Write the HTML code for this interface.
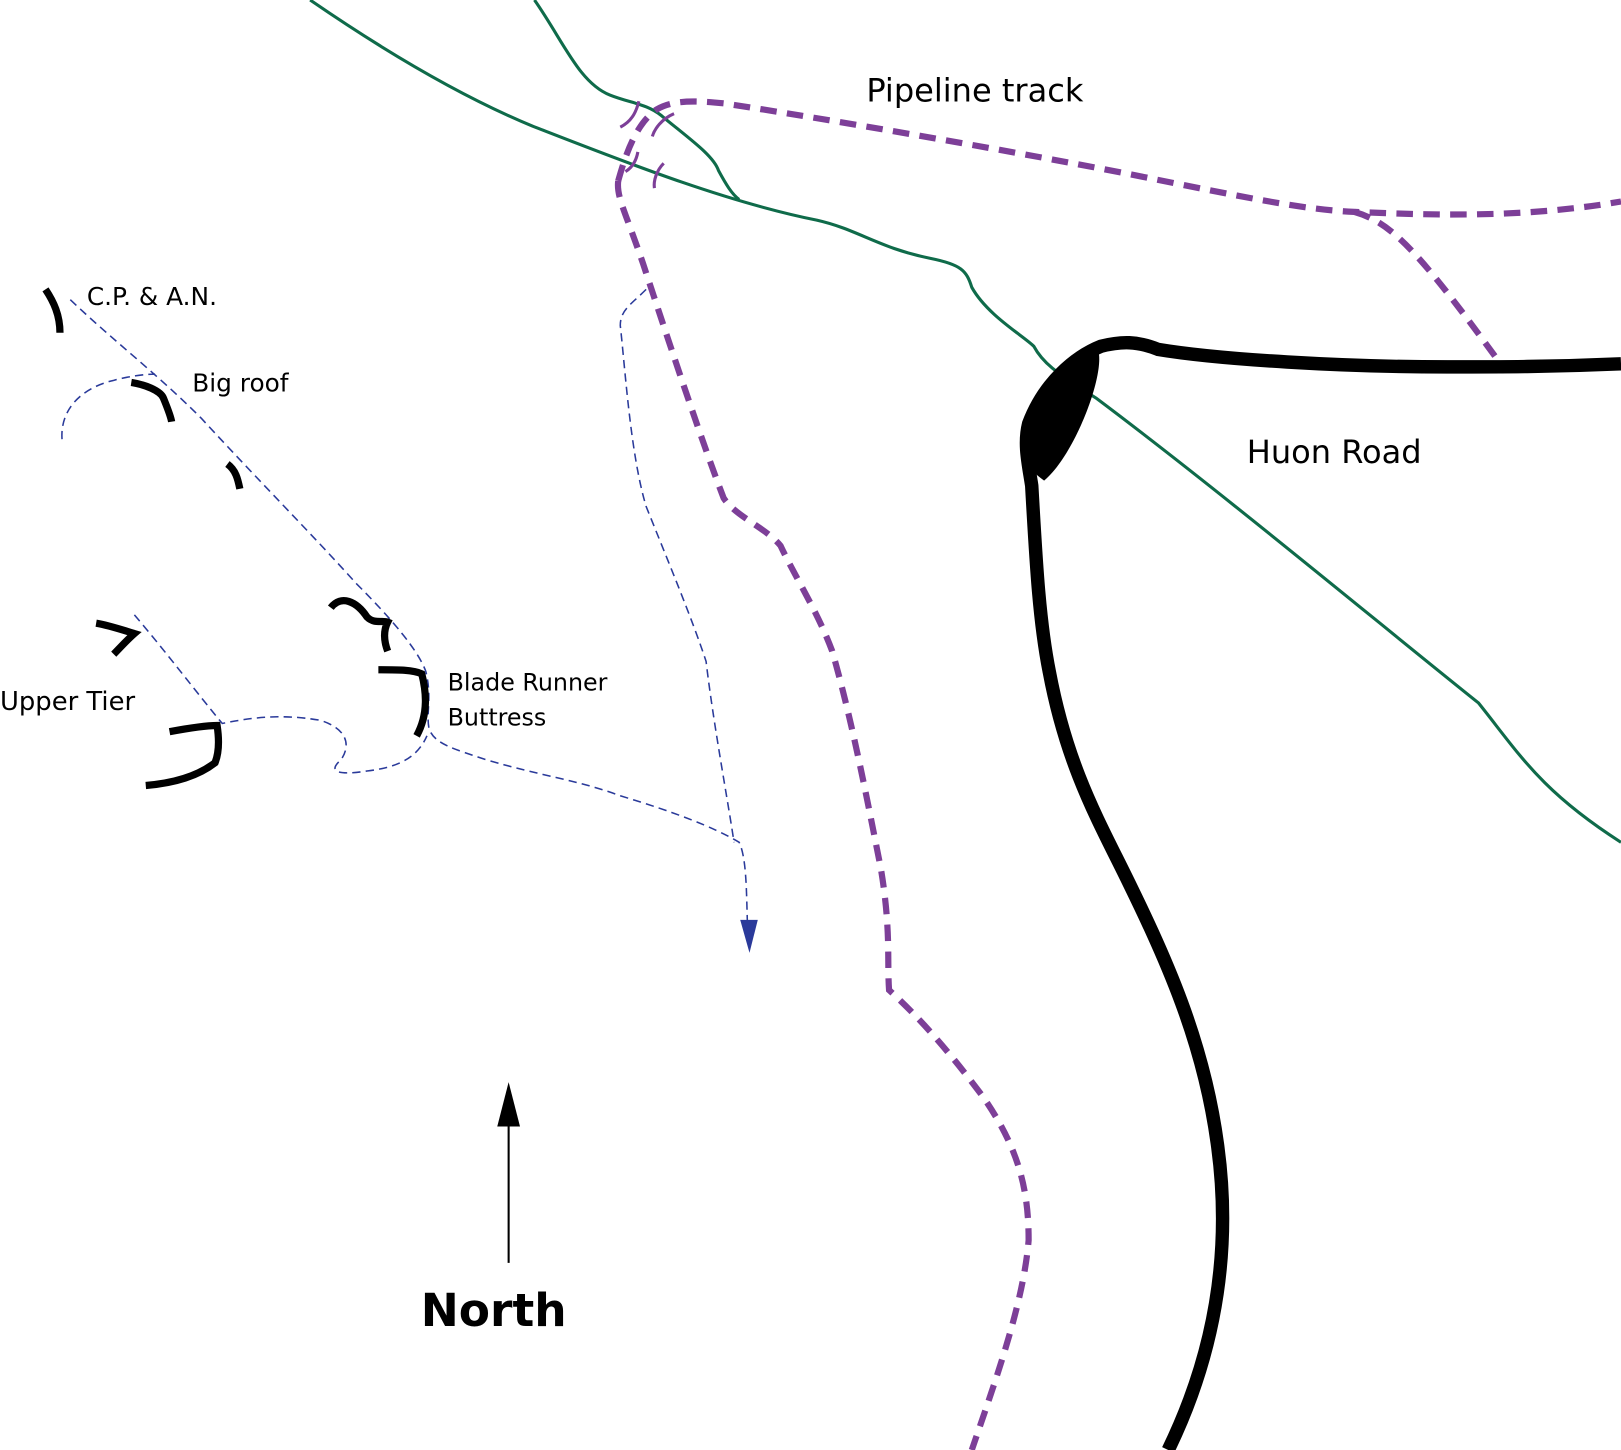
<!DOCTYPE html>
<html><head><meta charset="utf-8"><style>
html,body{margin:0;padding:0;background:#fff;}
svg{display:block;}
text{font-family:"DejaVu Sans","Liberation Sans",sans-serif;fill:#000;}
</style></head><body>
<svg width="1621" height="1450" viewBox="0 0 1568 1403" preserveAspectRatio="none" xmlns="http://www.w3.org/2000/svg">
<rect width="1568" height="1403" fill="#fff"/>
<!-- green lines -->
<g fill="none" stroke="#0f6b4a" stroke-width="3">
<path d="M300,0 C380,55 450,95 515,122 C600,155 700,195 790,213 C830,222 850,240 900,250 C930,256 935,262 940,278 C955,305 990,325 1000,335 C1008,350 1020,360 1060,385 C1180,475 1330,600 1430,680 C1470,730 1490,765 1568,815"/>
<path d="M517,0 C545,40 560,80 590,92 C610,100 625,100 640,112 C665,133 690,150 695,165 C702,178 708,188 715,193"/>
</g>
<!-- purple dashed -->
<g fill="none" stroke="#7d3f98" stroke-width="6" stroke-dasharray="16,10">
<path d="M598,175 C605,150 615,120 635,106 C650,97 670,97 700,100 C800,115 1000,150 1100,170 C1200,190 1260,203 1310,205 C1400,209 1480,210 1568,195"/>
<path d="M1310,205 C1345,215 1370,240 1450,350"/>
<path d="M598,175 C596,190 605,205 622,255 C650,340 680,430 700,482 C712,500 740,510 755,528 C770,560 790,590 805,630 C825,700 840,780 852,840 C862,900 858,930 860,958 C890,985 920,1020 950,1060 C985,1110 995,1150 995,1200 C990,1260 965,1330 940,1403"/>
</g>
<g fill="none" stroke="#7d3f98" stroke-width="3">
<path d="M618,98 C615,110 610,118 600,123"/>
<path d="M652,110 C640,115 633,125 631,132"/>
<path d="M617,147 C615,158 610,163 605,166"/>
<path d="M642,158 C635,165 632,175 633,182"/>
</g>
<!-- road -->
<g fill="none" stroke="#000" stroke-width="13" stroke-linecap="butt">
<path d="M1568,352 C1500,355 1450,355 1400,355 C1300,355 1180,348 1120,338 C1100,330 1085,330 1065,335 C1040,345 1010,370 995,410 C990,430 995,450 998,470 C1002,540 1005,600 1015,650 C1030,730 1055,780 1080,830 C1130,930 1165,1010 1178,1110 C1190,1200 1180,1300 1130,1403"/>
</g>
<path d="M1062,338 C1070,360 1040,440 1010,465 C995,455 985,440 990,410 C1000,375 1030,345 1062,338 Z" fill="#000"/>
<!-- blue dashed -->
<g fill="none" stroke="#2a3a9a" stroke-width="1.5" stroke-dasharray="8,5">
<path d="M68,290 C110,330 150,360 195,405 C250,465 300,515 345,565 C380,600 405,630 412,650 C418,675 412,690 415,705 C420,720 440,725 470,735 C520,750 560,755 600,770 C650,785 690,800 715,815 C722,830 722,860 723,895"/>
<path d="M625,280 C610,295 600,300 600,315 C605,360 610,440 625,490 C645,540 670,600 683,640 C690,700 705,780 710,815"/>
<path d="M60,425 C58,395 80,375 110,368 C125,364 140,362 150,362"/>
<path d="M130,595 C160,630 190,670 215,700 C240,695 270,690 310,697 C335,705 340,720 330,735 C315,748 330,750 355,746 C390,742 405,730 413,712"/>
</g>
<path d="M716,890 L733,890 L725,922 Z" fill="#2a3a9a"/>
<!-- climbing marks -->
<g fill="none" stroke="#000" stroke-width="7" stroke-linecap="butt">
<path d="M44,280 C52,292 58,305 58,322"/>
<path d="M127,370 C140,372 155,378 158,385 C162,395 165,402 166,408"/>
<path d="M220,449 C228,455 230,463 232,473"/>
<path d="M320,588 C330,575 345,582 355,597 C362,604 370,600 375,602 C370,612 372,622 375,630"/>
<path d="M366,648 C385,648 400,648 408,652 C412,668 415,690 403,712"/>
<path d="M93,603 C105,605 120,610 130,613 C122,620 115,628 110,633"/>
<path d="M164,708 C180,705 200,702 210,702 C212,715 212,728 208,738 C190,752 165,758 141,760"/>
</g>
<!-- arrow north -->
<line x1="492" y1="1080" x2="492" y2="1222" stroke="#000" stroke-width="2"/>
<path d="M481,1090 L492,1047 L503,1090 Z" fill="#000"/>
<!-- labels -->
<text x="838" y="98" font-size="31">Pipeline track</text>
<text x="1206" y="448" font-size="31">Huon Road</text>
<text x="84" y="295" font-size="24">C.P. &amp; A.N.</text>
<text x="186" y="379" font-size="24">Big roof</text>
<text x="433" y="668" font-size="23">Blade Runner</text>
<text x="433" y="702" font-size="23">Buttress</text>
<text x="0" y="687" font-size="25">Upper Tier</text>
<text x="407" y="1283" font-size="44" font-weight="bold">North</text>
</svg>
</body></html>
